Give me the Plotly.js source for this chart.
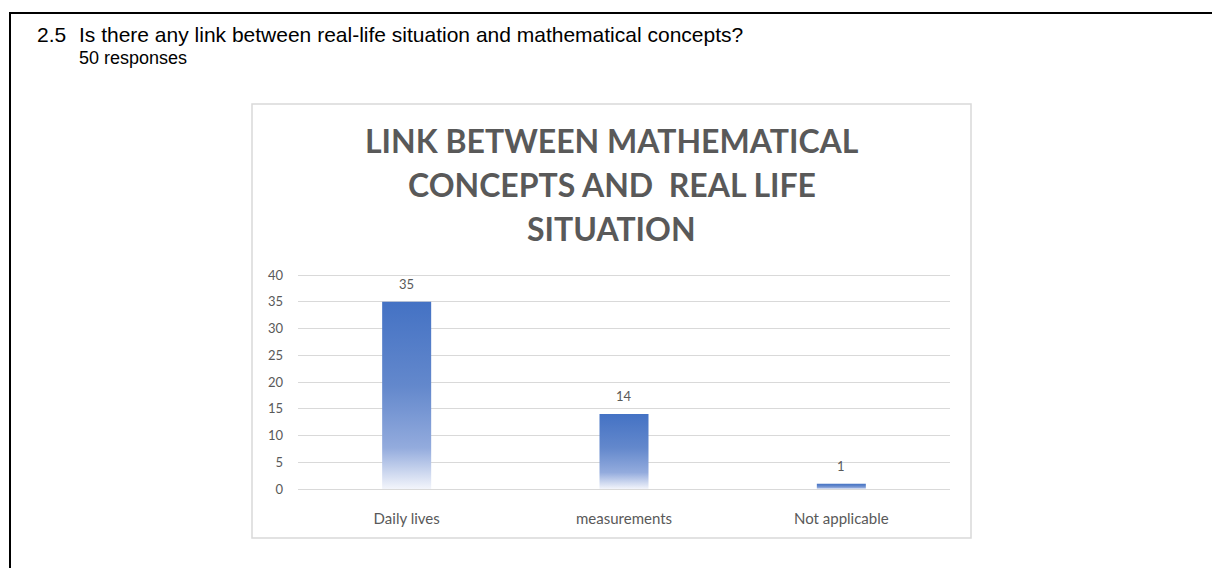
<!DOCTYPE html>
<html>
<head>
<meta charset="utf-8">
<script src="https://cdn.plot.ly/plotly-3.0.1.min.js"></script>
<style>
  html, body { margin: 0; padding: 0; background: #ffffff; }
  #chart { width: 1212px; height: 568px; }
</style>
</head>
<body>
<div id="chart"></div>
<script>
// Survey answers for question 2.5
const categories = ["Daily lives", "measurements", "Not applicable"];
const responses = [35, 14, 1];
const yTicks = [0, 5, 10, 15, 20, 25, 30, 35, 40];

const questionNumber = "2.5";
const questionText = "Is there any link between real-life situation and mathematical concepts?";
const responseCount = "50 responses";
const chartTitleLines = ["LINK BETWEEN MATHEMATICAL", "CONCEPTS AND&nbsp; REAL LIFE", "SITUATION"];

const W = 1212, H = 568;
const px = x => x / W;
const py = y => 1 - y / H;

const chartFont = "Lato, 'Open Sans', sans-serif";
const grey = "#595959";

const trace = {
  type: "bar",
  x: categories,
  y: responses,
  marker: { color: "#4472C4", line: { width: 0 } },
  hoverinfo: "x+y",
  showlegend: false
};

// value labels sit just above each bar
const valueLabels = categories.map((c, i) => ({
  xref: "x", yref: "y", x: c, y: responses[i],
  text: String(responses[i]),
  showarrow: false, yanchor: "bottom", yshift: 8,
  font: { family: chartFont, size: 13, color: grey }
}));

const titleAnnotations = chartTitleLines.map((t, i) => ({
  xref: "paper", yref: "paper", x: px(611.5), y: py(140 + i * 44.5),
  xanchor: "center", yanchor: "middle",
  text: "<b>" + t + "</b>", showarrow: false,
  font: { family: chartFont, size: 32, color: grey }
}));

const headerFont = "'Liberation Sans', Arial, sans-serif";
const headerAnnotations = [
  { xref: "paper", yref: "paper", x: px(35), y: py(35), xanchor: "left", yanchor: "middle",
    text: questionNumber, showarrow: false,
    font: { family: headerFont, size: 21, color: "#000000" } },
  { xref: "paper", yref: "paper", x: px(77), y: py(35), xanchor: "left", yanchor: "middle",
    text: questionText, showarrow: false,
    font: { family: headerFont, size: 21, color: "#000000" } },
  { xref: "paper", yref: "paper", x: px(77), y: py(58), xanchor: "left", yanchor: "middle",
    text: responseCount, showarrow: false,
    font: { family: headerFont, size: 18, color: "#000000" } }
];

// the value axis runs a little past 40 so the 40 gridline is drawn inside the plot
const layout = {
  width: W, height: H,
  margin: { l: 0, r: 0, t: 0, b: 0 },
  paper_bgcolor: "#ffffff",
  plot_bgcolor: "rgba(0,0,0,0)",
  bargap: 0.7745,
  xaxis: {
    domain: [px(298), px(950)],
    type: "category",
    showgrid: false, zeroline: false, showline: false,
    ticks: "", ticklabelstandoff: 19,
    tickfont: { family: chartFont, size: 15, color: grey }, fixedrange: true
  },
  yaxis: {
    domain: [py(489), py(269.65)],
    range: [0, 41],
    tickvals: yTicks,
    ticktext: yTicks.map(String),
    showgrid: true, gridcolor: "#d9d9d9", gridwidth: 1,
    zeroline: true, zerolinecolor: "#d9d9d9", zerolinewidth: 1,
    showline: false, ticks: "", ticklabelstandoff: 14,
    tickfont: { family: chartFont, size: 13, color: grey }, fixedrange: true
  },
  shapes: [
    // page frame
    { type: "line", xref: "paper", yref: "paper", x0: px(9), x1: 1, y0: py(13), y1: py(13),
      line: { color: "#000000", width: 2 } },
    { type: "line", xref: "paper", yref: "paper", x0: px(10), x1: px(10), y0: py(12), y1: 0,
      line: { color: "#000000", width: 2 } },
    // chart frame
    { type: "rect", xref: "paper", yref: "paper", x0: px(252), x1: px(971), y0: py(538), y1: py(104),
      line: { color: "#d9d9d9", width: 1.5 }, layer: "below" }
  ],
  annotations: headerAnnotations.concat(titleAnnotations, valueLabels)
};

Plotly.newPlot("chart", [trace], layout, { displayModeBar: false, staticPlot: true }).then(gd => {
  // vertical fade on the bars: deep blue at the top to almost white at the base
  const svg = gd.querySelector(".main-svg");
  const NS = "http://www.w3.org/2000/svg";
  let defs = svg.querySelector("defs");
  if (!defs) { defs = document.createElementNS(NS, "defs"); svg.insertBefore(defs, svg.firstChild); }
  const grad = document.createElementNS(NS, "linearGradient");
  grad.setAttribute("id", "barFade");
  grad.setAttribute("x1", "0"); grad.setAttribute("y1", "0");
  grad.setAttribute("x2", "0"); grad.setAttribute("y2", "1");
  [["0", "#4472C4"], ["0.45", "#6388CC"], ["0.78", "#93ABDD"], ["1", "#F3F5FB"]].forEach(([o, c]) => {
    const s = document.createElementNS(NS, "stop");
    s.setAttribute("offset", o); s.setAttribute("stop-color", c);
    grad.appendChild(s);
  });
  defs.appendChild(grad);
  gd.querySelectorAll(".bars .point path").forEach(p => { p.style.fill = "url(#barFade)"; });
});
</script>
</body>
</html>
